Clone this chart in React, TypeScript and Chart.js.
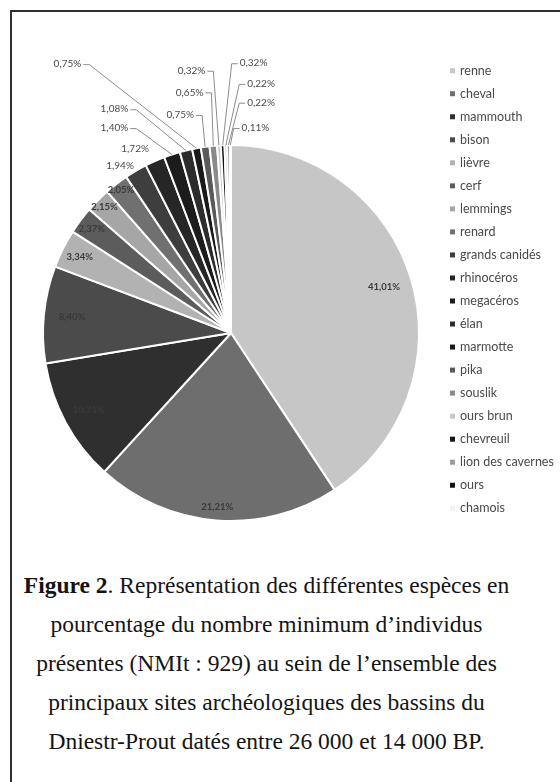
import React, { useEffect, useRef } from 'react';
import { Chart, registerables } from 'chart.js';

Chart.register(...registerables);

// ---- data ----
const species: string[] = [
  'renne', 'cheval', 'mammouth', 'bison', 'lièvre', 'cerf', 'lemmings', 'renard',
  'grands canidés', 'rhinocéros', 'megacéros', 'élan', 'marmotte', 'pika', 'souslik',
  'ours brun', 'chevreuil', 'lion des cavernes', 'ours', 'chamois',
];
const percentages: number[] = [
  41.01, 21.21, 10.71, 8.40, 3.34, 2.37, 2.15, 2.05, 1.94, 1.72, 1.40, 1.08,
  0.75, 0.75, 0.65, 0.32, 0.32, 0.22, 0.22, 0.11,
];
const sliceColors: string[] = [
  '#c6c6c6', '#6e6e6e', '#2f2f2f', '#4b4b4b', '#b2b2b2', '#5c5c5c', '#a6a6a6', '#707070',
  '#3e3e3e', '#262626', '#1c1c1c', '#2c2c2c', '#1a1a1a', '#5a5a5a', '#8a8a8a',
  '#c8c8c8', '#151515', '#9c9c9c', '#101010', '#f2f2f2',
];

// label placement (style): inside → radius fraction on mid-angle; outside → offset from centre in radius units
type Place = { r?: number; x?: number; y?: number; leader?: boolean };
const labelPlacement: Place[] = [
  { r: 0.85 }, { r: 0.93 }, { r: 0.86 }, { r: 0.85 }, { r: 0.9 }, { r: 0.925 }, { r: 0.95 }, { r: 0.96 },
  { x: -0.59, y: -0.89 }, { x: -0.51, y: -0.98 },
  { x: -0.62, y: -1.09, leader: true }, { x: -0.62, y: -1.19, leader: true },
  { x: -0.87, y: -1.43, leader: true }, { x: -0.27, y: -1.16, leader: true },
  { x: -0.22, y: -1.28, leader: true }, { x: -0.21, y: -1.395, leader: true },
  { x: 0.12, y: -1.435, leader: true }, { x: 0.16, y: -1.325, leader: true },
  { x: 0.16, y: -1.225, leader: true }, { x: 0.13, y: -1.09, leader: true },
];

const fmt = (v: number) => v.toFixed(2).replace('.', ',') + '%';

const labelPlugin = {
  id: 'sliceLabels',
  afterDatasetsDraw(chart: any) {
    const ctx = chart.ctx;
    const meta = chart.getDatasetMeta(0);
    const values = chart.data.datasets[0].data as number[];
    ctx.save();
    ctx.textAlign = 'center';
    ctx.textBaseline = 'middle';
    meta.data.forEach((arc: any, i: number) => {
      const { x, y, startAngle, endAngle, outerRadius } = arc.getProps(
        ['x', 'y', 'startAngle', 'endAngle', 'outerRadius'], true);
      const mid = (startAngle + endAngle) / 2;
      const p = labelPlacement[i];
      const text = fmt(values[i]);
      let lx: number, ly: number;
      if (p.r !== undefined) {
        lx = x + Math.cos(mid) * outerRadius * p.r;
        ly = y + Math.sin(mid) * outerRadius * p.r;
        ctx.font = 'bold 9.5px Lato';
        ctx.fillStyle = '#3a3a3a';
      } else {
        lx = x + (p.x as number) * outerRadius;
        ly = y + (p.y as number) * outerRadius;
        ctx.font = '10px Lato';
        ctx.fillStyle = '#4a4a4a';
      }
      ctx.fillText(text, lx, ly);
      if (p.leader) {
        const w = ctx.measureText(text).width;
        const ex = x + Math.cos(mid) * outerRadius;
        const ey = y + Math.sin(mid) * outerRadius;
        const left = lx < ex;
        const sx = left ? lx + w / 2 + 2 : lx - w / 2 - 2;
        const hx = left ? sx + 6 : sx - 6;
        ctx.strokeStyle = '#8c8c8c';
        ctx.lineWidth = 1;
        ctx.beginPath();
        ctx.moveTo(sx, ly + 0.5);
        ctx.lineTo(hx, ly + 0.5);
        ctx.lineTo(ex, ey);
        ctx.stroke();
      }
    });
    ctx.restore();
  },
};

const legendPlugin = {
  id: 'sideLegend',
  afterDraw(chart: any, _args: any, opts: any) {
    const ctx = chart.ctx;
    const labels = chart.data.labels as string[];
    const colors = chart.data.datasets[0].backgroundColor as string[];
    ctx.save();
    ctx.font = `${opts.size}px ${opts.family}`;
    ctx.textBaseline = 'middle';
    ctx.textAlign = 'left';
    labels.forEach((l, i) => {
      const yy = opts.top + i * opts.spacing;
      ctx.fillStyle = colors[i];
      ctx.fillRect(opts.left, yy - 2.5, 5, 5);
      ctx.fillStyle = opts.color;
      ctx.fillText(l, opts.left + 10, yy);
    });
    ctx.restore();
  },
};

function PieChart() {
  const ref = useRef<HTMLCanvasElement | null>(null);
  useEffect(() => {
    if (!ref.current) return;
    const chart = new Chart(ref.current, {
      type: 'pie',
      data: {
        labels: species,
        datasets: [{
          data: percentages,
          backgroundColor: sliceColors,
          borderColor: '#ffffff',
          borderWidth: 2,
        }],
      },
      options: {
        responsive: false,
        animation: false,
        layout: { padding: { left: 30, right: 140, top: 132, bottom: 30 } },
        plugins: {
          legend: { display: false },
          tooltip: { enabled: false },
          sideLegend: { left: 438, top: 58.7, spacing: 23.03, size: 12.5, family: 'Lato', color: '#4a4a4a' },
        } as any,
      },
      plugins: [labelPlugin, legendPlugin],
    });
    return () => chart.destroy();
  }, []);
  return <canvas ref={ref} width={548} height={540} style={{ display: 'block' }} />;
}

export default function App() {
  const lines = [
    <><b>Figure 2</b>. Représentation des différentes espèces en</>,
    <>pourcentage du nombre minimum d’individus</>,
    <>présentes (NMIt : 929) au sein de l’ensemble des</>,
    <>principaux sites archéologiques des bassins du</>,
    <>Dniestr-Prout datés entre 26 000 et 14 000 BP.</>,
  ];
  return (
    <div style={{ position: 'fixed', inset: 0, overflow: 'hidden', background: '#fff' }}>
      <div style={{
        position: 'absolute', left: 10, top: 10, width: 600, height: 800,
        borderTop: '2.5px solid #2e2e2e', borderLeft: '2.5px solid #2e2e2e', boxSizing: 'border-box',
      }} />
      <div style={{ position: 'absolute', left: 12, top: 12 }}>
        <PieChart />
      </div>
      <div style={{
        position: 'absolute', left: 12, top: 566, width: 509, textAlign: 'center',
        fontFamily: '"Liberation Serif", serif', fontSize: 23.5, lineHeight: '39px', color: '#141414',
      }}>
        {lines.map((l, i) => <div key={i} style={{ whiteSpace: 'nowrap' }}>{l}</div>)}
      </div>
    </div>
  );
}
